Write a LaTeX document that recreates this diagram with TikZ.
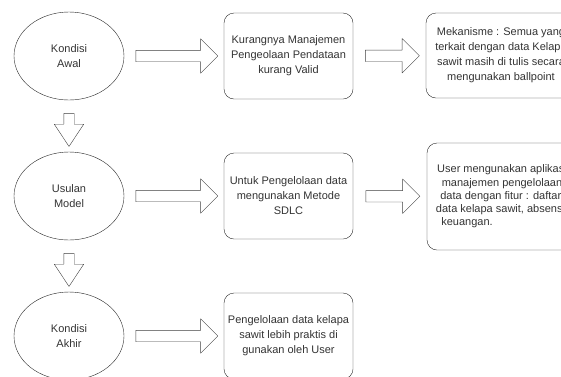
\documentclass[tikz,border=0pt]{standalone}
\usepackage{fontspec}
\setmainfont{Liberation Sans}
\usetikzlibrary{shapes.geometric,shapes.arrows,calc}

\begin{document}
\begin{tikzpicture}[x=1pt,y=-1pt,font=\fontsize{11}{15}\selectfont,line join=round,
  state/.style={ellipse,draw=black!85,minimum width=110pt,minimum height=88pt,align=center,text=black!80},
  proses/.style={rectangle,rounded corners=10pt,draw=black!85,minimum width=129pt,minimum height=86pt,align=center,text=black!80},
  blok/.style={single arrow,draw=black!75,fill=white,inner sep=5.5pt,single arrow head extend=11.5pt,minimum width=34pt},
  blokturun/.style={blok,rotate=-90,inner sep=5pt,single arrow head extend=9.5pt,minimum width=29pt,single arrow tip angle=67}]
\useasboundingbox (0,0) rectangle (561,376);
\clip (0,0) rectangle (561,376);
\node[state] (awal) at (69,56) {Kondisi\\Awal};
\node[state] (usulan) at (69,196) {Usulan\\Model};
\node[state] (akhir) at (69,336) {Kondisi\\Akhir};
\node[proses] (masalah) at (288.5,56) {Kurangnya Manajemen\\Pengeolaan Pendataan\\kurang Valid};
\node[proses] (sdlc) at (288.5,196) {Untuk Pengelolaan data\\mengunakan Metode\\SDLC};
\node[proses] (hasil) at (288.5,336) {Pengelolaan data kelapa\\sawit lebih praktis di\\gunakan oleh User};
\node[proses,minimum width=150pt,minimum height=85pt] (mekanisme) at (501,55.5) {Mekanisme : Semua yang\\terkait dengan data Kelapa\\sawit masih di tulis secara\\mengunakan ballpoint};
\node[proses,minimum width=150pt,minimum height=107pt,font=\fontsize{11}{13.3}\selectfont] (aplikasi) at (502,196.5) {User mengunakan aplikasi\\manajemen pengelolaan\\data dengan fitur : daftar,\\data kelapa sawit, absensi,\\keuangan.\hspace*{70pt}};
\node[blok,minimum height=82pt] (a1) at ($(awal.east)!0.5!(masalah.west)$) {};
\node[blok,minimum height=82pt] (a2) at ($(usulan.east)!0.5!(sdlc.west)$) {};
\node[blok,minimum height=82pt] (a3) at ($(akhir.east)!0.5!(hasil.west)$) {};
\node[blok,minimum height=54pt] (b1) at ($(masalah.east)!0.5!(mekanisme.west)$) {};
\node[blok,minimum height=54pt] (b2) at ($(sdlc.east)!0.5!(aplikasi.west)$) {};
\node[blokturun,minimum height=33pt] (c1) at ($(awal.south)!0.5!(usulan.north)$) {};
\node[blokturun,minimum height=33pt] (c2) at ($(usulan.south)!0.5!(akhir.north)$) {};
\end{tikzpicture}
\end{document}
